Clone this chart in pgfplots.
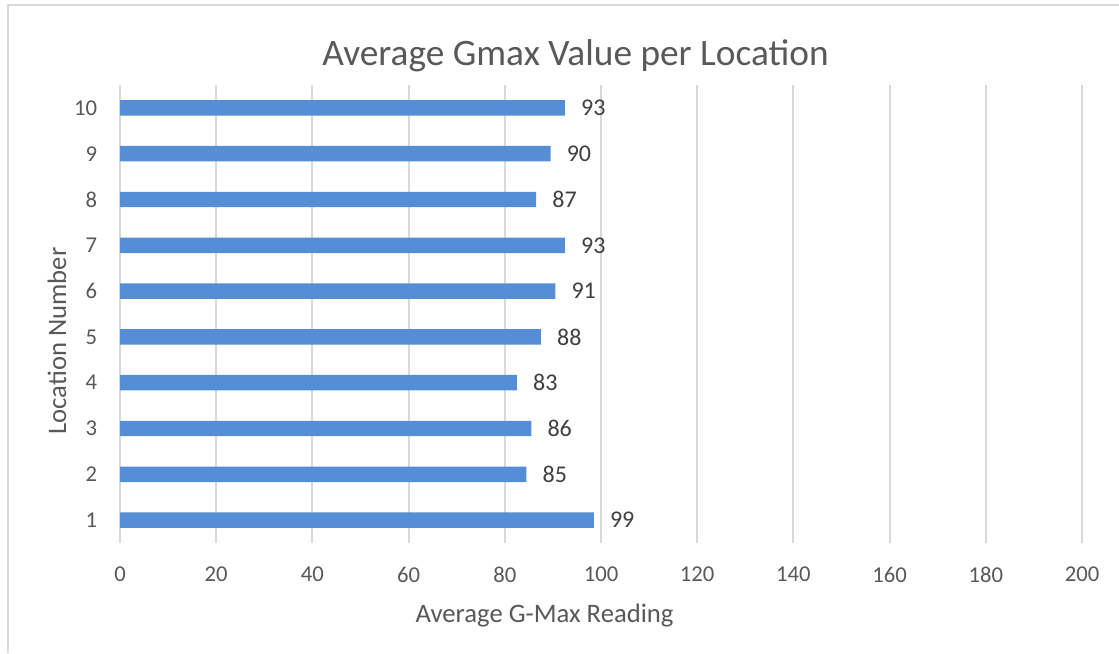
\documentclass[border=0pt]{standalone}
\usepackage{fontspec}
\setmainfont{Carlito}
\usepackage{pgfplots}
\usepackage{pgfplotstable}
\pgfplotsset{compat=1.18}
\definecolor{barblue}{HTML}{558ED5}
\definecolor{gridgray}{HTML}{D9D9D9}
\definecolor{txtgray}{HTML}{595959}
\definecolor{lblgray}{HTML}{404040}
\pgfplotstableread{
loc v lab
1 98.5 99
2 84.5 85
3 85.5 86
4 82.5 83
5 87.5 88
6 90.5 91
7 92.5 93
8 86.5 87
9 89.5 90
10 92.5 93
}\datatable
\begin{document}
\begin{tikzpicture}
\path[use as bounding box] (-90pt,-82.5pt) rectangle (749.25pt,407.25pt);
\fill[white] (-90pt,-82.5pt) rectangle (749.25pt,407.25pt);
\draw[gridgray, line width=0.9pt] (-84pt,-82.5pt) -- (-84pt,403.5pt) -- (749.25pt,403.5pt);
\begin{axis}[
  at={(0pt,0pt)}, anchor=south west,
  scale only axis, width=721.5pt, height=343.5pt,
  xbar, bar width=11.6pt,
  xmin=0, xmax=200, ymin=0.5, ymax=10.5,
  xtick={0,20,...,200}, ytick={1,...,10},
  major tick length=0pt,
  axis line style={draw=none},
  xmajorgrids, grid style={gridgray, line width=1.4pt},
  /pgf/number format/assume math mode=true,
  xticklabel style={font=\fontsize{17}{20}\selectfont, text=txtgray, anchor=north, inner sep=0pt, yshift=-18pt},
  yticklabel style={font=\fontsize{17}{20}\selectfont, text=txtgray, anchor=east, inner sep=0pt, xshift=-17pt},
  nodes near coords,
  point meta=explicit symbolic,
  every node near coord/.append style={font=\fontsize{18}{21}\selectfont, text=lblgray, anchor=west, inner sep=0pt, xshift=12pt},
]
\addplot[fill=barblue, draw=none] table[x=v, y=loc, meta=lab] {\datatable};
\end{axis}
\node[anchor=base, text=txtgray, font=\fontsize{28}{32}\selectfont] at (341.6pt,357.75pt) {Average Gmax Value per Location};
\node[anchor=base, text=txtgray, font=\fontsize{20}{24}\selectfont] at (318.4pt,-59.25pt) {Average G-Max Reading};
\node[anchor=base, rotate=90, text=txtgray, font=\fontsize{20}{24}\selectfont] at (-40.5pt,151.5pt) {Location Number};
\end{tikzpicture}
\end{document}
